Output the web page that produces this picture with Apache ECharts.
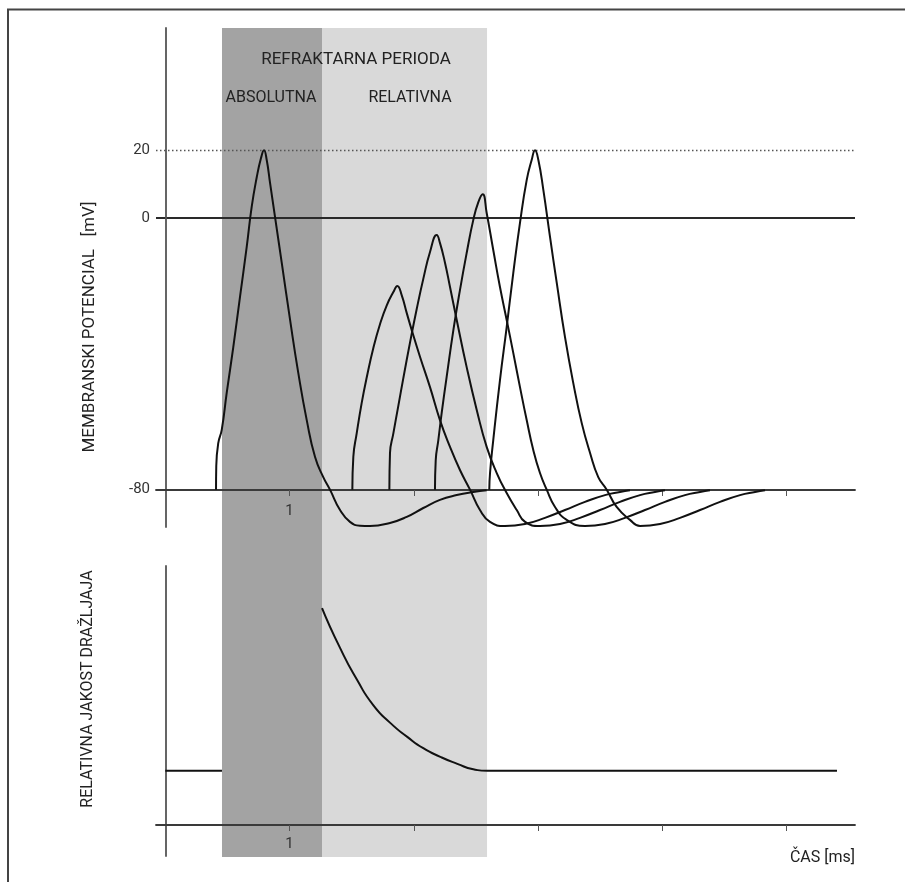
<!DOCTYPE html>
<html><head><meta charset="utf-8">
<script src="https://cdn.jsdelivr.net/npm/echarts@6/dist/echarts.min.js"></script>
<style>html,body{margin:0;padding:0;background:#fff}#c{width:905px;height:882px}</style>
</head><body><div id="c"></div>
<script>
const FONT = "Roboto,'Noto Sans',sans-serif";

// axes
const timeRange = [-0.075, 5.55];          // ms
const voltageRange = [-91, 56];            // mV
const strengthRange = [-0.58, 4.8];        // relative units
const voltageTickLabels = [-80, 0, 20];
const timeTicks = [1, 2, 3, 4, 5];
const timeTickLabels = [1];
const zeroPotential = 0;
const peakPotential = 20;

// refractory periods (ms)
const absolutePeriod = [0.456, 1.261];
const relativePeriod = [1.261, 2.589];

// action potentials [ms, mV]
const ap1 = [[0.408,-80],[0.410,-73],[0.426,-66.3],[0.454,-62.4],[0.494,-51.5],[0.547,-38],[0.601,-23.2],[0.655,-8.5],[0.695,3.3],[0.736,12.1],[0.770,17.7],[0.794,20],[0.816,17.1],[0.843,10.3],[0.883,0.3],[0.937,-13.2],[1.004,-30],[1.070,-45.6],[1.138,-59.5],[1.205,-70.4],[1.271,-76.3],[1.325,-80],[1.406,-86],[1.486,-89.5],[1.567,-90.6],[1.647,-90.7],[1.808,-89.8],[1.943,-88],[2.076,-85.4],[2.210,-83],[2.345,-81.6],[2.478,-80.7],[2.586,-80.2]];
const ap2 = [[1.505,-80],[1.513,-70.3],[1.540,-63.4],[1.580,-54.5],[1.621,-46.9],[1.674,-38.3],[1.728,-31.2],[1.782,-25.7],[1.835,-21.8],[1.867,-20],[1.902,-22.7],[1.943,-28],[1.983,-33],[2.050,-40.9],[2.130,-49.8],[2.210,-59.5],[2.291,-67.4],[2.371,-74.2],[2.452,-80],[2.532,-86],[2.613,-89.5],[2.733,-90.7],[2.894,-90.1],[3.055,-88.3],[3.216,-86],[3.377,-83.6],[3.538,-81.6],[3.659,-80.7],[3.739,-80.2]];
const ap3 = [[1.803,-80],[1.808,-69.2],[1.835,-63.4],[1.875,-55.3],[1.915,-47.2],[1.969,-36.7],[2.023,-26.8],[2.076,-17.9],[2.130,-10],[2.184,-5],[2.210,-7.3],[2.251,-13.2],[2.291,-20.3],[2.345,-30],[2.425,-43.9],[2.506,-56.5],[2.586,-67.4],[2.667,-75.1],[2.747,-81],[2.828,-86],[2.895,-89.5],[3.015,-90.7],[3.176,-90.1],[3.337,-88.3],[3.498,-86],[3.659,-83.6],[3.820,-81.6],[3.940,-80.7],[4.021,-80.2]];
const ap4 = [[2.170,-80],[2.176,-71.3],[2.197,-65.4],[2.224,-57.4],[2.264,-46.8],[2.318,-33],[2.371,-21.2],[2.425,-10.3],[2.478,-0.6],[2.519,4.7],[2.554,7],[2.586,1.5],[2.639,-9.4],[2.693,-20.3],[2.747,-30],[2.800,-39.7],[2.854,-49.8],[2.908,-59.5],[2.961,-68.3],[3.015,-75.1],[3.069,-80],[3.136,-85.1],[3.230,-88.9],[3.377,-90.7],[3.538,-90.1],[3.699,-88.3],[3.860,-86],[4.021,-83.6],[4.182,-81.6],[4.303,-80.7],[4.383,-80.2]];
const ap5 = [[2.607,-80],[2.613,-75.1],[2.639,-65.4],[2.693,-47.7],[2.747,-32.1],[2.800,-16.2],[2.854,-1.4],[2.908,11.2],[2.948,17.1],[2.975,20],[3.002,17.1],[3.042,8.3],[3.096,-5.6],[3.150,-19.1],[3.216,-35],[3.283,-48.6],[3.351,-60.4],[3.418,-69.2],[3.484,-76.3],[3.552,-80],[3.632,-85.1],[3.739,-88.9],[3.820,-90.7],[3.981,-90.1],[4.142,-88.3],[4.303,-86],[4.464,-83.6],[4.625,-81.6],[4.746,-80.7],[4.826,-80.2]];

// relative stimulus strength [ms, relative]
const strengthBefore = [[0,1],[0.456,1]];
const strengthAfter = [[1.261,4.02],[1.406,3.28],[1.545,2.68],[1.673,2.22],[1.810,1.89],[1.947,1.63],[2.076,1.42],[2.213,1.26],[2.350,1.13],[2.478,1.03],[2.590,1.0],[5.405,1.0]];

const AX = '#3a3a3a';
const chart = echarts.init(document.getElementById('c'));
const apLine = (d) => ({
  type: 'line', data: d, xAxisIndex: 0, yAxisIndex: 0, showSymbol: false, symbol: 'none',
  smooth: 0.5, clip: false, z: 4,
  lineStyle: { color: '#111', width: 2 }
});
const top1 = apLine(ap1);
top1.markLine = {
  silent: true, symbol: 'none', label: { show: false }, z: 3,
  data: [
    { yAxis: zeroPotential, lineStyle: { color: '#2a2a2a', width: 1.8, type: 'solid' } },
    { yAxis: peakPotential, lineStyle: { color: '#555', width: 1.4, type: [1.5, 2.5] } }
  ]
};

chart.setOption({
  animation: false,
  backgroundColor: '#fff',
  textStyle: { fontFamily: FONT },
  grid: [
    { left: 156, right: 50, top: 28, height: 499 },
    { left: 156, right: 50, top: 566, height: 290 },
    { left: 156, right: 50, top: 28, height: 829 }
  ],
  xAxis: [
    { gridIndex: 0, type: 'value', min: timeRange[0], max: timeRange[1], offset: -37, z: 3,
      axisLine: { show: true, onZero: false, lineStyle: { color: AX, width: 1.8 } },
      axisTick: { show: true, customValues: timeTicks, length: 6, lineStyle: { color: '#555', width: 1 } },
      axisLabel: { customValues: timeTickLabels, margin: 14, fontSize: 15, color: '#333', fontFamily: FONT },
      splitLine: { show: false } },
    { gridIndex: 1, type: 'value', min: timeRange[0], max: timeRange[1], offset: -31, z: 3,
      axisLine: { show: true, onZero: false, lineStyle: { color: AX, width: 1.8 } },
      axisTick: { show: true, customValues: timeTicks, length: 6, lineStyle: { color: '#555', width: 1 } },
      axisLabel: { customValues: timeTickLabels, margin: 12, fontSize: 15, color: '#333', fontFamily: FONT },
      splitLine: { show: false } },
    { gridIndex: 2, type: 'value', min: timeRange[0], max: timeRange[1], show: false }
  ],
  yAxis: [
    { gridIndex: 0, type: 'value', min: voltageRange[0], max: voltageRange[1], z: 3,
      axisLine: { show: true, onZero: true, lineStyle: { color: '#555', width: 1.8 } },
      axisTick: { show: false },
      axisLabel: { customValues: voltageTickLabels, margin: 6, fontSize: 15, color: '#333', fontFamily: FONT },
      splitLine: { show: false } },
    { gridIndex: 1, type: 'value', min: strengthRange[0], max: strengthRange[1], z: 3,
      axisLine: { show: true, onZero: true, lineStyle: { color: '#555', width: 1.8 } },
      axisTick: { show: false }, axisLabel: { show: false }, splitLine: { show: false } },
    { gridIndex: 2, type: 'value', min: 0, max: 1, show: false }
  ],
  series: [
    { type: 'line', xAxisIndex: 2, yAxisIndex: 2, data: [], z: -1, silent: true,
      markArea: { silent: true, z: -1, data: [
        [{ xAxis: absolutePeriod[0], itemStyle: { color: '#a3a3a3' } }, { xAxis: absolutePeriod[1] }],
        [{ xAxis: relativePeriod[0], itemStyle: { color: '#d9d9d9' } }, { xAxis: relativePeriod[1] }]
      ] } },
    top1, apLine(ap2), apLine(ap3), apLine(ap4), apLine(ap5),
    { type: 'line', data: strengthBefore, xAxisIndex: 1, yAxisIndex: 1, showSymbol: false, symbol: 'none', clip: false, z: 4,
      lineStyle: { color: '#111', width: 2 } },
    { type: 'line', data: strengthAfter, xAxisIndex: 1, yAxisIndex: 1, showSymbol: false, symbol: 'none', clip: false, z: 4,
      smooth: 0.6, lineStyle: { color: '#111', width: 2 } }
  ],
  graphic: [
    { type: 'polyline', silent: true, shape: { points: [[8, 882], [8, 9.5], [905, 9.5]] },
      style: { stroke: '#444', lineWidth: 2, fill: null } },
    { type: 'text', x: 356, y: 60, silent: true,
      style: { text: 'REFRAKTARNA PERIODA', font: '17px ' + FONT, fill: '#222', align: 'center', verticalAlign: 'middle' } },
    { type: 'text', x: 271, y: 98, silent: true,
      style: { text: 'ABSOLUTNA', font: '16px ' + FONT, fill: '#222', align: 'center', verticalAlign: 'middle' } },
    { type: 'text', x: 410, y: 98, silent: true,
      style: { text: 'RELATIVNA', font: '16px ' + FONT, fill: '#222', align: 'center', verticalAlign: 'middle' } },
    { type: 'text', x: 90, y: 327, rotation: Math.PI / 2, silent: true,
      style: { text: 'MEMBRANSKI POTENCIAL   [mV]', font: '17px ' + FONT, fill: '#222', align: 'center', verticalAlign: 'middle' } },
    { type: 'text', x: 88, y: 689, rotation: Math.PI / 2, silent: true,
      style: { text: 'RELATIVNA JAKOST DRAŽLJAJA', font: '16px ' + FONT, fill: '#222', align: 'center', verticalAlign: 'middle' } },
    { type: 'text', x: 855, y: 858, silent: true,
      style: { text: 'ČAS [ms]', font: '16px ' + FONT, fill: '#222', align: 'right', verticalAlign: 'middle' } }
  ]
});
</script></body></html>
